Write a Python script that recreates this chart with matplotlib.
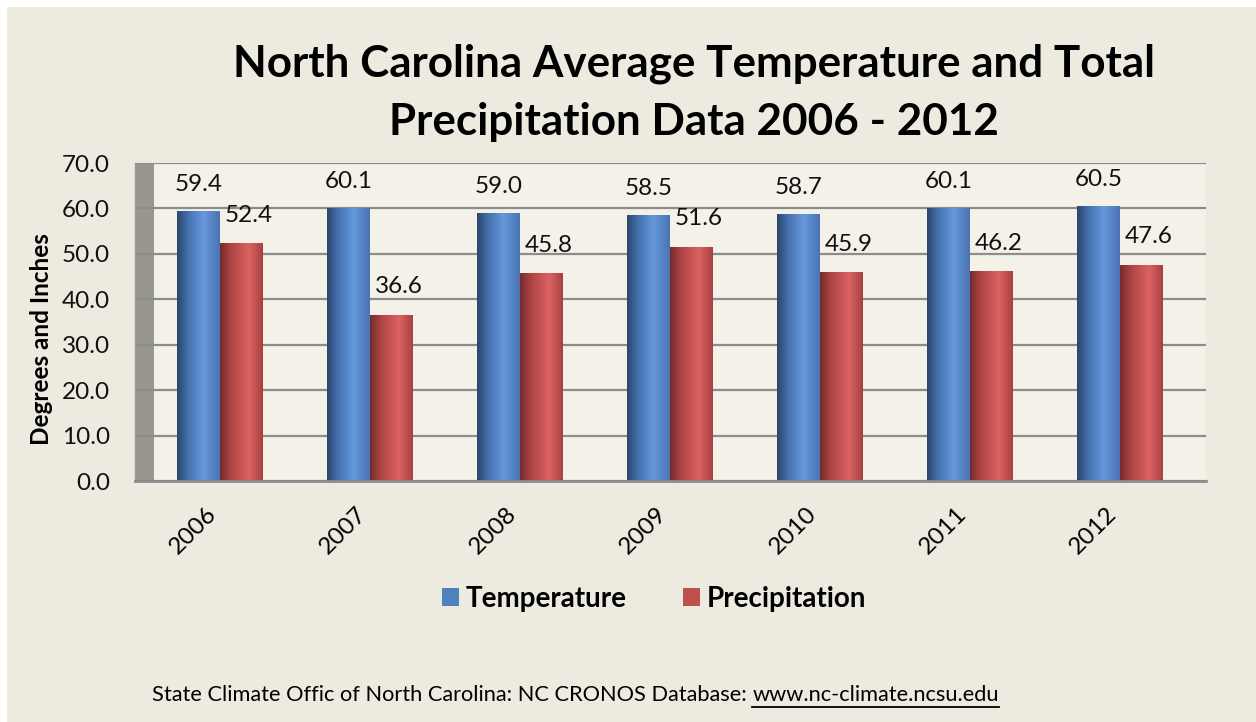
import numpy as np
import matplotlib
matplotlib.use("Agg")
import matplotlib.pyplot as plt
from matplotlib.colors import to_rgb
from matplotlib.patches import Rectangle
from matplotlib.lines import Line2D
from matplotlib.transforms import ScaledTranslation

# ---- data ----
years = ["2006", "2007", "2008", "2009", "2010", "2011", "2012"]
temperature = [59.4, 60.1, 59.0, 58.5, 58.7, 60.1, 60.5]
precipitation = [52.4, 36.6, 45.8, 51.6, 45.9, 46.2, 47.6]
series_names = ["Temperature", "Precipitation"]
y_ticks = [0, 10, 20, 30, 40, 50, 60, 70]

W, H = 1256, 722
DPI = 100
FONT = "Lato"
FS = 17.5

BLUE = "#4f81bd"
RED = "#c0504d"
OUTER_BG = "#edeae0"
PLOT_BG = "#f4f2e8"
GRID = "#8c8c8c"
WALL = "#979790"

# horizontal shading across a column (position, colour)
blue_stops = [(0.0, "#2c466c"), (0.25, "#4470ad"), (0.62, "#6698dc"), (1.0, "#4a74b2")]
red_stops = [(0.0, "#742c2c"), (0.25, "#ad4444"), (0.68, "#dc6262"), (1.0, "#a84242")]


def shade_strip(stops, n=64):
    pos = np.array([p for p, _ in stops])
    cols = np.array([to_rgb(c) for _, c in stops])
    t = np.linspace(0, 1, n)
    rgb = np.stack([np.interp(t, pos, cols[:, k]) for k in range(3)], axis=-1)
    return rgb[np.newaxis, :, :]


def px(x):
    return x / W


def py(y):
    return 1 - y / H


fig = plt.figure(figsize=(W / DPI, H / DPI), dpi=DPI, facecolor="white")
# beige chart area
fig.patches.append(Rectangle((px(7), 0), 1 - px(7), py(7), transform=fig.transFigure,
                             facecolor=OUTER_BG, edgecolor="none", zorder=-10))

ax = fig.add_axes([px(135), py(481), px(1206) - px(135), py(163) - py(481)])
ax.set_facecolor(PLOT_BG)

x = np.arange(len(years))
width = 0.286

# grey side wall
ax.add_patch(Rectangle((0, 0), 0.0178, 1, transform=ax.transAxes,
                       facecolor=WALL, edgecolor="none", zorder=0.5))

ax.set_yticks(y_ticks)
ax.set_yticklabels([f"{v:.1f}" for v in y_ticks])
ax.yaxis.grid(True, color=GRID, linewidth=1.6, zorder=1)
ax.set_axisbelow(True)

bars_t = ax.bar(x - width / 2, temperature, width, color=BLUE, zorder=2, label=series_names[0])
bars_p = ax.bar(x + width / 2, precipitation, width, color=RED, zorder=2, label=series_names[1])

for bars, stops in ((bars_t, blue_stops), (bars_p, red_stops)):
    strip = shade_strip(stops)
    for b in bars:
        x0, w, h = b.get_x(), b.get_width(), b.get_height()
        im = ax.imshow(strip, extent=(x0, x0 + w, 0, h), aspect="auto",
                       interpolation="bilinear", zorder=2.5)
        im.set_clip_path(b)

ax.set_xlim(-0.567, len(years) - 1 + 0.573)
ax.set_ylim(0, 70)

# value labels
for b, v in zip(bars_t, temperature):
    ax.annotate(f"{v:.1f}", (b.get_x() + b.get_width() / 2, v), xytext=(0, 19),
                textcoords="offset points", ha="center", va="center",
                fontsize=FS, family=FONT, color="#111111", zorder=4)
for b, v in zip(bars_p, precipitation):
    ax.annotate(f"{v:.1f}", (b.get_x() + b.get_width() / 2, v), xytext=(5, 20),
                textcoords="offset points", ha="center", va="center",
                fontsize=FS, family=FONT, color="#111111", zorder=4)

# axes frame
for s in ("top", "right"):
    ax.spines[s].set_visible(False)
ax.spines["left"].set_color("#9a9a9a")
ax.spines["left"].set_linewidth(1.0)
ax.spines["bottom"].set_color(GRID)
ax.spines["bottom"].set_linewidth(2.0)
ax.spines["bottom"].set_zorder(3)

ax.tick_params(axis="both", length=0)
ax.tick_params(axis="y", pad=18, labelsize=FS)
ax.set_xticks(x)
ax.set_xticklabels(years, rotation=45, ha="right", va="top", fontsize=FS, family=FONT)
ax.tick_params(axis="x", pad=16)
for lab in ax.get_xticklabels():
    lab.set_transform(lab.get_transform() + ScaledTranslation(1 / DPI, 0, fig.dpi_scale_trans))
for lab in ax.get_yticklabels():
    lab.set_family(FONT)
    lab.set_color("#111111")

ax.set_ylabel("Degrees and Inches", fontsize=17.5, fontweight="bold", family=FONT)
ax.yaxis.set_label_coords((53 - 135) / (1206 - 135), (481 - 339) / (481 - 163))

# title
fig.text(px(694), py(64), "North Carolina Average Temperature and Total",
         ha="center", va="center", fontsize=31.7, fontweight="bold", family=FONT)
fig.text(px(694), py(122), "Precipitation Data 2006 - 2012",
         ha="center", va="center", fontsize=31.7, fontweight="bold", family=FONT)

# legend
handles = [Rectangle((0, 0), 1, 1, facecolor=BLUE), Rectangle((0, 0), 1, 1, facecolor=RED)]
fig.legend(handles, series_names, loc="center", bbox_to_anchor=(px(654), py(599)),
           ncol=2, frameon=False, handlelength=0.62, handleheight=0.62,
           handletextpad=0.26, columnspacing=2.0,
           prop={"family": FONT, "weight": "bold", "size": 20})

# source line with underlined link
src = fig.text(px(152), py(695), "State Climate Offic of North Carolina: NC CRONOS Database: ",
               ha="left", va="center", fontsize=15.7, family=FONT)
fig.canvas.draw()
r = fig.canvas.get_renderer()
bb = src.get_window_extent(r)
url = fig.text(bb.x1 / W, py(695), "www.nc-climate.ncsu.edu", ha="left", va="center",
               fontsize=15.7, family=FONT)
ub = url.get_window_extent(r)
uy = (ub.y0 - 2) / H
fig.lines.append(Line2D([ub.x0 / W, ub.x1 / W], [uy, uy], transform=fig.transFigure,
                        color="black", linewidth=1.3))

fig.savefig("out.png", dpi=DPI, facecolor=fig.get_facecolor())
